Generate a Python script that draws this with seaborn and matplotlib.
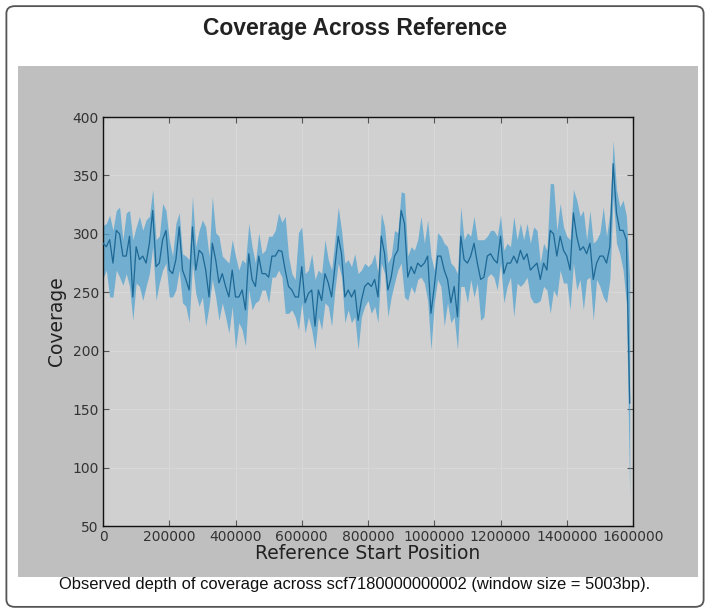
import numpy as np
import pandas as pd
import seaborn as sns
import matplotlib.pyplot as plt
from matplotlib.patches import FancyBboxPatch, Rectangle

# window start positions (every 10 kb) and coverage summary
position = [i * 10000 for i in range(160)]

cov_mean = [292, 289, 295, 275, 303, 300, 281, 281, 298, 246,
            289, 278, 281, 275, 292, 320, 272, 275, 295, 303,
            269, 266, 278, 306, 269, 261, 252, 306, 269, 286,
            283, 269, 246, 292, 278, 258, 266, 255, 246, 269,
            246, 246, 252, 235, 283, 261, 255, 281, 266, 266,
            263, 281, 281, 286, 285, 269, 255, 252, 246, 246,
            272, 241, 249, 252, 221, 252, 243, 266, 258, 246,
            272, 298, 283, 246, 252, 246, 252, 226, 243, 255,
            258, 255, 261, 246, 298, 283, 252, 263, 281, 286,
            320, 309, 263, 272, 266, 275, 272, 275, 281, 232,
            255, 281, 281, 269, 261, 241, 255, 229, 298, 278,
            275, 281, 292, 275, 261, 263, 281, 283, 278, 275,
            298, 266, 275, 275, 281, 275, 286, 278, 283, 269,
            272, 275, 261, 275, 269, 303, 300, 281, 298, 286,
            281, 269, 318, 298, 286, 289, 283, 292, 261, 275,
            281, 281, 275, 289, 360, 318, 303, 303, 295, 155]

cov_hi = [307, 309, 316, 303, 320, 323, 295, 318, 320, 295,
          306, 315, 303, 312, 315, 338, 295, 298, 326, 320,
          295, 281, 309, 318, 283, 281, 278, 332, 289, 303,
          312, 306, 281, 332, 301, 298, 281, 278, 275, 295,
          281, 269, 278, 275, 309, 289, 275, 301, 283, 286,
          298, 298, 303, 318, 310, 315, 281, 266, 261, 301,
          306, 266, 269, 283, 261, 269, 266, 295, 278, 269,
          295, 323, 303, 275, 278, 272, 283, 266, 269, 275,
          272, 275, 283, 266, 318, 306, 275, 281, 303, 301,
          336, 335, 281, 289, 286, 295, 315, 292, 312, 281,
          269, 301, 298, 292, 289, 275, 272, 266, 323, 295,
          301, 298, 315, 295, 295, 295, 298, 303, 303, 298,
          316, 286, 292, 289, 315, 295, 309, 295, 309, 292,
          306, 303, 275, 292, 286, 343, 343, 303, 326, 306,
          298, 295, 338, 329, 315, 320, 295, 320, 292, 295,
          301, 323, 298, 318, 380, 338, 323, 329, 315, 260]

cov_lo = [262, 269, 246, 246, 269, 263, 256, 266, 255, 226,
          258, 255, 243, 255, 266, 289, 243, 258, 269, 275,
          246, 246, 252, 269, 241, 238, 224, 275, 249, 238,
          246, 221, 238, 261, 246, 226, 241, 229, 215, 238,
          201, 224, 218, 204, 252, 235, 241, 243, 252, 252,
          241, 263, 263, 269, 263, 232, 232, 235, 229, 218,
          241, 215, 229, 218, 201, 229, 218, 241, 238, 221,
          252, 275, 263, 224, 235, 224, 229, 201, 229, 238,
          243, 232, 238, 224, 275, 266, 229, 246, 258, 269,
          275, 246, 243, 255, 249, 261, 263, 258, 243, 201,
          241, 261, 255, 221, 241, 224, 229, 201, 255, 255,
          241, 261, 246, 258, 226, 229, 263, 266, 263, 252,
          275, 241, 255, 263, 229, 258, 255, 258, 263, 246,
          241, 241, 243, 255, 252, 232, 252, 246, 269, 258,
          258, 235, 275, 252, 261, 235, 261, 263, 226, 261,
          255, 246, 241, 261, 332, 292, 283, 269, 240, 75]

df = pd.DataFrame({"position": position, "mean": cov_mean,
                   "lo": cov_lo, "hi": cov_hi})

sns.set_theme(style="ticks")
plt.rcParams["font.family"] = ["DejaVu Sans"]

fig = plt.figure(figsize=(7.1, 6.13), dpi=100)
fig.patch.set_facecolor("white")

# outer card with border
card = FancyBboxPatch((0.009, 0.010), 0.982, 0.980,
                      boxstyle="round,pad=0,rounding_size=0.012",
                      transform=fig.transFigure, facecolor="white",
                      edgecolor="#555555", linewidth=1.3, zorder=-3)
fig.patches.append(card)
# grey image panel
panel = Rectangle((0.0254, 0.0587), 0.958, 0.8336, transform=fig.transFigure,
                  facecolor="#bfbfbf", edgecolor="none", zorder=-2)
fig.patches.append(panel)

fig.text(0.5, 0.954, "Coverage Across Reference", ha="center", va="center",
         fontsize=16.5, fontweight="bold", family="Liberation Sans", color="#222222")
fig.text(0.5, 0.046,
         "Observed depth of coverage across scf7180000000002 (window size = 5003bp).",
         ha="center", va="center", fontsize=11.9, family="Liberation Sans",
         color="#111111")

ax = fig.add_axes([0.1451, 0.1419, 0.7465, 0.6672])
ax.set_facecolor("#d0d0d0")
ax.fill_between(df["position"], df["lo"], df["hi"], color="#52a3d0",
                alpha=0.75, linewidth=0, zorder=2)
sns.lineplot(data=df, x="position", y="mean", ax=ax, color="#1d6895",
             linewidth=0.9, zorder=3)

ax.set_xlim(0, 1600000)
ax.set_ylim(50, 400)
ax.set_xticks(range(0, 1600001, 200000))
ax.set_yticks(range(50, 401, 50))
ax.ticklabel_format(style="plain", axis="x")
ax.grid(True, color="#d8d8d8", linewidth=0.8)
ax.set_axisbelow(True)
ax.tick_params(direction="in", top=True, right=True, length=4, width=0.8,
               color="#555555", labelsize=10, labelcolor="#333333", pad=3)
for s in ax.spines.values():
    s.set_color("#111111")
    s.set_linewidth(1.0)
ax.set_xlabel("Reference Start Position", fontsize=13.5, color="#222222", labelpad=0)
ax.set_ylabel("Coverage", fontsize=13.5, color="#222222", labelpad=5)

fig.savefig("out.png", dpi=100, facecolor="white")
